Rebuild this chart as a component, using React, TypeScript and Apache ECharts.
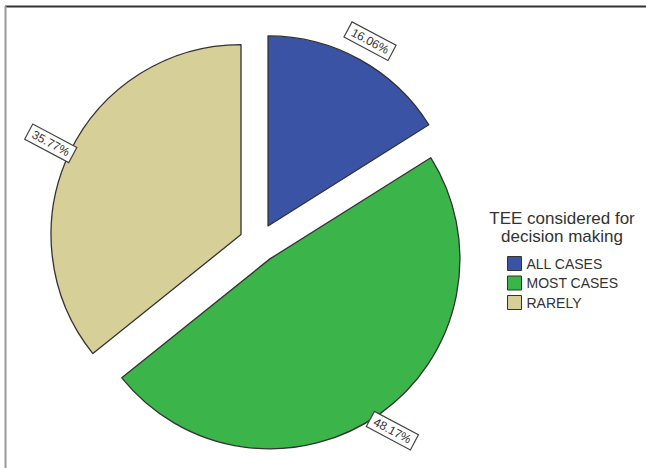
import React, { useEffect, useRef } from "react";
import * as echarts from "echarts";

const categories = ["ALL CASES", "MOST CASES", "RARELY"];
const percents = [16.06, 48.17, 35.77];
const colors = ["#3a53a4", "#3bb44a", "#d6cf98"];
const legendTitle = "TEE considered for\ndecision making";

export default function App() {
  const ref = useRef<HTMLDivElement>(null);
  useEffect(() => {
    if (!ref.current) return;
    const chart = echarts.init(ref.current, null, { renderer: "svg" });
    const center = [258.6, 243];
    const offset = 19.5;
    const font = "'Liberation Sans', Arial, sans-serif";
    const mainData = categories.map((c, i) => ({
      name: c,
      value: percents[i],
      selected: true,
      itemStyle: { color: colors[i] },
    }));
    const labelData = categories.map((c, i) => ({
      name: c,
      value: percents[i],
      selected: true,
    }));
    chart.setOption({
      animation: false,
      backgroundColor: "#ffffff",
      legend: {
        orient: "vertical",
        left: 507,
        top: 256,
        itemWidth: 14,
        itemHeight: 14,
        itemGap: 4.5,
        padding: 0,
        icon: "rect",
        selectedMode: false,
        data: categories,
        textStyle: { fontSize: 14, color: "#333", fontFamily: font },
        itemStyle: { borderColor: "#333", borderWidth: 1 },
      },
      graphic: [
        {
          type: "line",
          shape: { x1: 5, y1: 6.5, x2: 646, y2: 6.5 },
          style: { stroke: "#333", lineWidth: 2 },
          silent: true,
        },
        {
          type: "line",
          shape: { x1: 5.5, y1: 6, x2: 5.5, y2: 468 },
          style: { stroke: "#999", lineWidth: 2 },
          silent: true,
        },
        {
          type: "text",
          x: 562,
          y: 209,
          silent: true,
          style: {
            text: legendTitle,
            textAlign: "center",
            align: "center",
            textVerticalAlign: "top",
            verticalAlign: "top",
            fontSize: 17,
            lineHeight: 18,
            fontFamily: font,
            fill: "#333",
          },
        },
      ],
      series: [
        {
          type: "pie",
          center,
          radius: 190,
          startAngle: 90,
          clockwise: true,
          selectedMode: "multiple",
          selectedOffset: offset,
          silent: true,
          label: { show: false },
          labelLine: { show: false },
          itemStyle: { borderColor: "#333", borderWidth: 1.3 },
          emphasis: { disabled: true },
          data: mainData,
        },
        {
          type: "pie",
          center,
          radius: [196, 220],
          startAngle: 90,
          clockwise: true,
          selectedMode: "multiple",
          selectedOffset: offset,
          silent: true,
          itemStyle: { color: "rgba(0,0,0,0)", borderWidth: 0 },
          emphasis: { disabled: true },
          labelLine: { show: false },
          label: {
            show: true,
            position: "inside",
            rotate: -28,
            formatter: (p: any) => p.value.toFixed(2) + "%",
            fontSize: 12,
            fontFamily: font,
            color: "#333",
            backgroundColor: "#fff",
            borderColor: "#444",
            borderWidth: 1.2,
            padding: [2, 4],
          },
          data: labelData,
        },
      ],
    });
    return () => chart.dispose();
  }, []);
  return (
    <div
      ref={ref}
      style={{ position: "absolute", left: 0, top: 0, width: 646, height: 468 }}
    />
  );
}
